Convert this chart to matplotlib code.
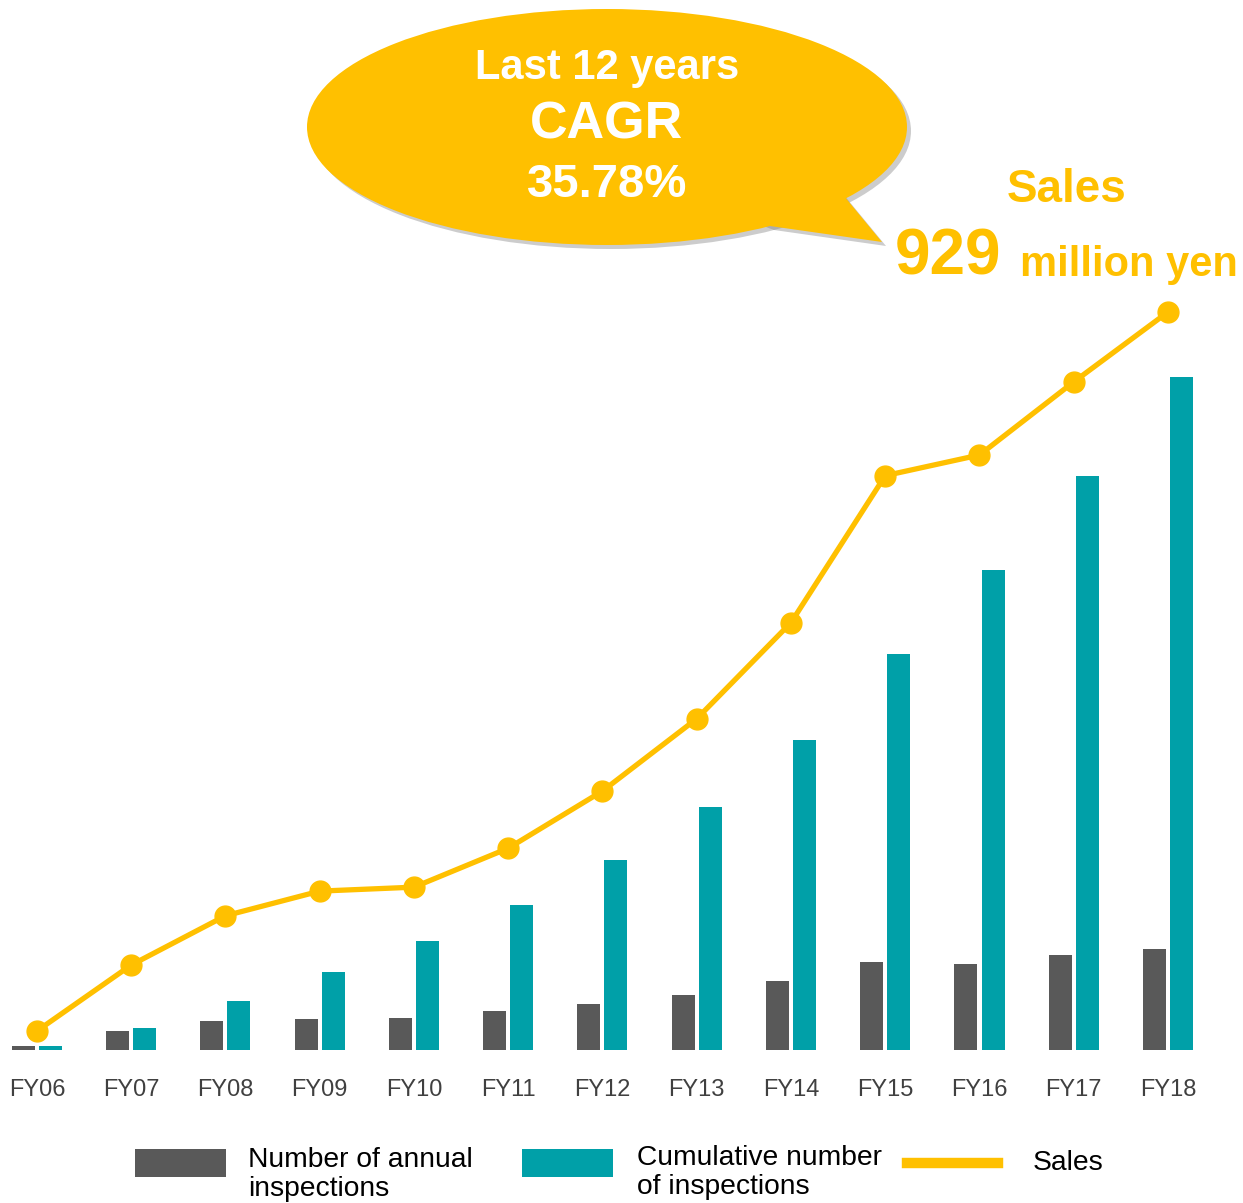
import numpy as np
import matplotlib
matplotlib.use("Agg")
import matplotlib.pyplot as plt
from matplotlib.patches import Ellipse, Polygon, Rectangle
from matplotlib.lines import Line2D

plt.rcParams['font.family'] = ['Liberation Sans', 'DejaVu Sans']

# data
years = ['FY06', 'FY07', 'FY08', 'FY09', 'FY10', 'FY11', 'FY12',
         'FY13', 'FY14', 'FY15', 'FY16', 'FY17', 'FY18']
annual = [4, 19, 29, 31, 32, 39, 46, 55, 69, 88, 86, 95, 101]
cumulative = [4, 22, 49, 78, 109, 145, 190, 243, 310, 396, 480, 574, 673]
sales = [24, 107, 169, 200, 205, 254, 326, 417, 538, 723, 749, 841, 929]

YELLOW = '#FFC000'
TEAL = '#00A0A8'
GRAY = '#595959'

W, H = 1243, 1203
fig = plt.figure(figsize=(W / 100, H / 100), dpi=100)

def fx(x):
    return x / W

def fy(y):
    return 1 - y / H

# axes: baseline at y=1050px, full width
ax = fig.add_axes([0, fy(1050), 1, 1050 / H])
ax.patch.set_visible(False)
x = np.arange(len(years))
step = 94.25
ax.set_xlim(-37 / step, (W - 37) / step)
ax.set_ylim(0, 1050)
w = 23 / step
off = 13.5 / step
ax.bar(x - off, annual, width=w, color=GRAY, zorder=2)
ax.bar(x + off, cumulative, width=w, color=TEAL, zorder=2)
for s in ax.spines.values():
    s.set_visible(False)
ax.set_yticks([])
ax.set_xticks(x)
ax.set_xticklabels(years, fontsize=17, color='#404040')
ax.tick_params(axis='x', length=0, pad=21)

ax2 = ax.twinx()
ax2.set_ylim(0, 1050 * 929 / 738)
ax2.plot(x, sales, color=YELLOW, lw=3.8, marker='o', markersize=15,
         solid_capstyle='round', zorder=3, clip_on=False)
ax2.set_yticks([])
for s in ax2.spines.values():
    s.set_visible(False)

# speech bubble
sh = 4
for dx, col, a, z in [(sh, '#808080', 0.4, 1), (0, YELLOW, 1, 2)]:
    fig.patches.append(Ellipse((fx(607 + dx), fy(127 + dx)), fx(600), 236 / H,
                               transform=fig.transFigure, color=col, alpha=a,
                               zorder=z, lw=0))
    tail = [(835 + dx, 185 + dx), (882 + dx, 242 + dx), (770 + dx, 226 + dx), (700 + dx, 200 + dx)]
    fig.patches.append(Polygon([(fx(a_), fy(b_)) for a_, b_ in tail], closed=True,
                               transform=fig.transFigure, color=col, alpha=a,
                               zorder=z, lw=0))

fig.text(fx(607), fy(68), 'Last 12 years', color='white', fontsize=30,
         fontweight='bold', ha='center', va='center', zorder=5)
fig.text(fx(607), fy(125), 'CAGR', color='white', fontsize=37.5,
         fontweight='bold', ha='center', va='center', zorder=5)
fig.text(fx(607), fy(185), '35.78%', color='white', fontsize=34,
         fontweight='bold', ha='center', va='center', zorder=5)

fig.text(fx(1067), fy(190), 'Sales', color=YELLOW, fontsize=33,
         fontweight='bold', ha='center', va='center')
fig.text(fx(895), fy(257), '929', color=YELLOW, fontsize=46,
         fontweight='bold', ha='left', va='center')
fig.text(fx(1020), fy(265), 'million yen', color=YELLOW, fontsize=30,
         fontweight='bold', ha='left', va='center')

# legend
fig.patches.append(Rectangle((fx(135), fy(1177)), fx(91), 28 / H,
                             transform=fig.transFigure, color=GRAY, lw=0))
fig.patches.append(Rectangle((fx(522), fy(1177)), fx(91), 28 / H,
                             transform=fig.transFigure, color=TEAL, lw=0))
fig.lines.append(Line2D([fx(907), fx(998)], [fy(1163), fy(1163)],
                        transform=fig.transFigure, color=YELLOW, lw=7.5))
fig.text(fx(248), fy(1160), 'Number of annual', fontsize=20.3,
         ha='left', va='center')
fig.text(fx(248), fy(1189), 'inspections', fontsize=20.3,
         ha='left', va='center')
fig.text(fx(637), fy(1158), 'Cumulative number', fontsize=20.3,
         ha='left', va='center')
fig.text(fx(637), fy(1187), 'of inspections', fontsize=20.3,
         ha='left', va='center')
fig.text(fx(1033), fy(1163), 'Sales', fontsize=20.3, ha='left', va='center')

fig.savefig('out.png', dpi=100)
